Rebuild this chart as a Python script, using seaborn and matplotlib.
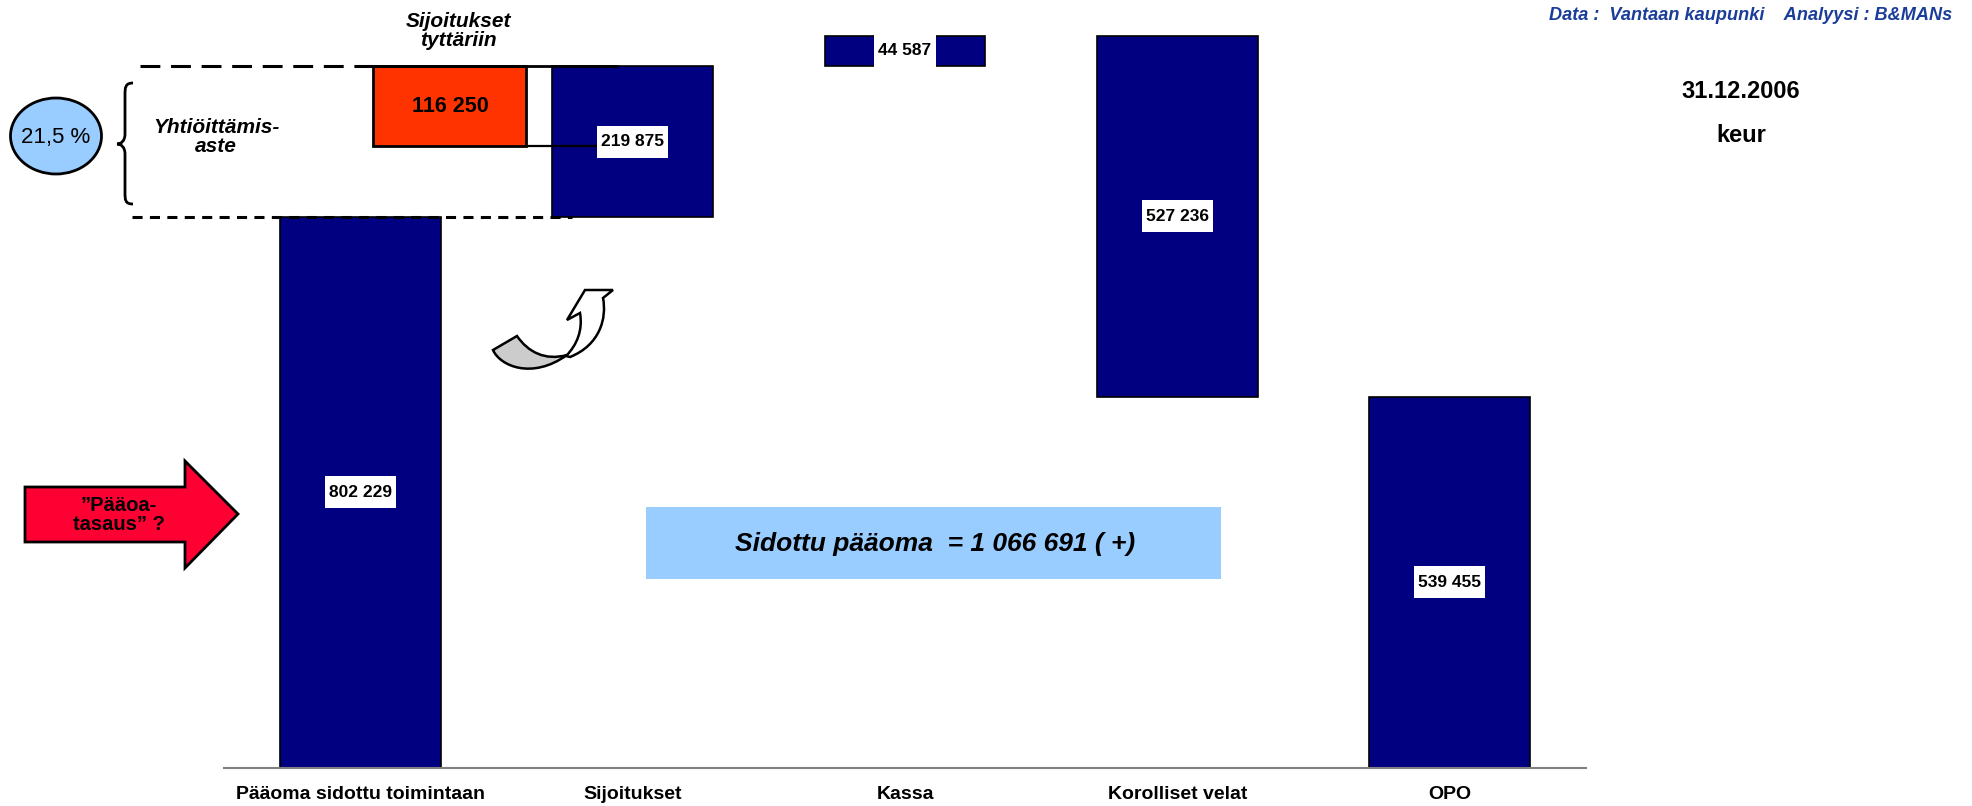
import matplotlib
matplotlib.use("Agg")
import matplotlib.pyplot as plt
import matplotlib.patches as mpatches
import matplotlib.transforms as mtransforms
from matplotlib.path import Path
import pandas as pd
import seaborn as sns

# ---------------- data ----------------
categories = ["Pääoma sidottu toimintaan", "Sijoitukset", "Kassa", "Korolliset velat", "OPO"]
changes = [802229, 219875, 44587, -527236, 539455]
is_total = [True, False, False, False, True]
subsidiary_investment = 116250
capitalization_rate = "21,5 %"
bound_capital_text = "Sidottu pääoma  = 1 066 691 ( +)"
source_text = "Data :  Vantaan kaupunki    Analyysi : B&MANs"
date_text = "31.12.2006"
unit_text = "keur"

# waterfall geometry from the values
bottoms, heights = [], []
running = 0
for v, tot in zip(changes, is_total):
    if tot:
        bottoms.append(0)
        heights.append(abs(v))
        running = v
    else:
        new = running + v
        bottoms.append(min(running, new))
        heights.append(abs(v))
        running = new
labels = [f"{abs(v):,}".replace(",", " ") for v in changes]

NAVY = "#000080"
ORANGE = "#ff3300"
LIGHTBLUE = "#99ccff"
RED = "#ff0033"
HEADER_BLUE = "#1b3d9a"

sns.set_style("white")
plt.rcParams["font.family"] = ["Liberation Sans", "DejaVu Sans"]
plt.rcParams["text.color"] = "black"
plt.rcParams["xtick.color"] = "black"
plt.rcParams["xtick.labelcolor"] = "black"

W, H = 1972, 806
fig = plt.figure(figsize=(W / 100, H / 100), dpi=100)
axis_px = 767.5
ax = fig.add_axes([224 / W, (H - axis_px) / H, 1362 / W, axis_px / H])

df = pd.DataFrame({"category": categories, "height": heights})
sns.barplot(data=df, x="category", y="height", order=categories, color=NAVY,
            saturation=1, width=0.59, bottom=bottoms, errorbar=None,
            edgecolor="black", linewidth=1.2, ax=ax)

ax.set_xlim(-0.5, 4.5)
ax.set_ylim(0, axis_px / 6.862e-4)
ax.set_xlabel("")
ax.set_ylabel("")
ax.set_yticks([])
ax.set_xticks(range(len(categories)))
ax.set_xticklabels(categories, fontsize=14, fontweight="bold", color="black")
ax.tick_params(axis="x", length=0, pad=13)
for s in ["top", "right", "left"]:
    ax.spines[s].set_visible(False)
ax.spines["bottom"].set_color("#808080")
ax.spines["bottom"].set_linewidth(1.5)
ax.set_facecolor("none")

# transforms: pixel coordinates (y down) and pixel-x / data-y
pxT = mtransforms.Affine2D().scale(1 / W, -1 / H).translate(0, 1) + fig.transFigure
bt = mtransforms.blended_transform_factory(pxT, ax.transData)
renderer = fig.canvas.get_renderer()

# value labels in white boxes (box: text width + small margin, fixed height)
for i, (b, h, lab) in enumerate(zip(bottoms, heights, labels)):
    t = ax.text(i, b + h / 2, lab, ha="center", va="center", fontsize=12.5,
                fontweight="bold", color="black", zorder=8)
    tw = t.get_window_extent(renderer=renderer).width
    cx, cy = pxT.inverted().transform(ax.transData.transform((i, b + h / 2)))
    bw, bh = tw + 8, 32
    ax.add_patch(mpatches.Rectangle((cx - bw / 2, cy - bh / 2), bw, bh, transform=pxT,
                                    facecolor="white", edgecolor="none", zorder=7,
                                    clip_on=False))

sij_top = bottoms[1] + heights[1]
sij_bottom = bottoms[1]
orange_bottom = sij_top - subsidiary_investment

# dashed guide lines
ax.plot([140, 373], [sij_top, sij_top], transform=bt, color="black", lw=2.2,
        ls=(0, (6.5, 3.5)), clip_on=False, zorder=5)
ax.plot([132, 572], [sij_bottom, sij_bottom], transform=bt, color="black", lw=2.2,
        ls=(0, (3.3, 2.4)), clip_on=False, zorder=5)
# orange box and connectors
ax.add_patch(mpatches.Rectangle((373, orange_bottom), 153, subsidiary_investment,
                                transform=bt, facecolor=ORANGE, edgecolor="black",
                                lw=2, clip_on=False, zorder=5))
ax.plot([373, 617], [sij_top, sij_top], transform=bt, color="black", lw=2,
        clip_on=False, zorder=5)
ax.plot([526, 600], [orange_bottom, orange_bottom], transform=bt, color="black", lw=1.6,
        clip_on=False, zorder=5)
ax.text(450, sij_top - subsidiary_investment / 2, f"{subsidiary_investment:,}".replace(",", " "),
        transform=bt, ha="center", va="center", fontsize=15.5, fontweight="bold", zorder=6)
ax.text(458, 31, "Sijoitukset\ntyttäriin", transform=pxT, ha="center", va="center",
        fontsize=15, fontweight="bold", fontstyle="italic", linespacing=1.0, zorder=6)

# ellipse with rate
ax.add_patch(mpatches.Ellipse((56, 136), 91, 76, transform=pxT, facecolor=LIGHTBLUE,
                              edgecolor="black", lw=2, clip_on=False, zorder=5))
ax.text(56, 137, capitalization_rate, transform=pxT, ha="center", va="center",
        fontsize=16, zorder=6)

# curly brace
brace = Path([(133, 83), (125, 83), (125, 88), (125, 95), (125, 134),
              (125, 141), (121, 144), (117, 144),
              (121, 144), (125, 147), (125, 154), (125, 192),
              (125, 200), (125, 204), (133, 204)],
             [Path.MOVETO, Path.CURVE4, Path.CURVE4, Path.CURVE4, Path.LINETO,
              Path.CURVE4, Path.CURVE4, Path.CURVE4,
              Path.CURVE4, Path.CURVE4, Path.CURVE4, Path.LINETO,
              Path.CURVE4, Path.CURVE4, Path.CURVE4])
ax.add_patch(mpatches.PathPatch(brace, transform=pxT, facecolor="none", edgecolor="black",
                                lw=2, clip_on=False, zorder=5))
ax.text(216, 137, "Yhtiöittämis-\naste", transform=pxT, ha="center", va="center",
        fontsize=15, fontweight="bold", fontstyle="italic", linespacing=1.05, zorder=6)

# curved arrow (white head + grey ribbon)
white_arrow = Path([(566, 356), (577, 345), (583, 330), (580, 313),
                    (567, 320), (585, 290), (613, 290), (603, 298),
                    (607, 318), (600, 345), (570, 357), (566, 356)],
                   [Path.MOVETO, Path.CURVE4, Path.CURVE4, Path.CURVE4,
                    Path.LINETO, Path.LINETO, Path.LINETO, Path.LINETO,
                    Path.CURVE4, Path.CURVE4, Path.CURVE4, Path.CLOSEPOLY])
ax.add_patch(mpatches.PathPatch(white_arrow, transform=pxT, facecolor="white",
                                edgecolor="black", lw=1.8, clip_on=False, zorder=5))
grey_ribbon = Path([(493, 350), (500, 366), (532, 380), (567, 355),
                    (545, 361), (528, 352), (517, 336), (493, 350)],
                   [Path.MOVETO, Path.CURVE4, Path.CURVE4, Path.CURVE4,
                    Path.CURVE4, Path.CURVE4, Path.CURVE4, Path.CLOSEPOLY])
ax.add_patch(mpatches.PathPatch(grey_ribbon, transform=pxT, facecolor="#cccccc",
                                edgecolor="black", lw=1.8, clip_on=False, zorder=5))

# red block arrow
red_arrow = [(25, 487), (185, 487), (185, 461), (238, 514), (185, 568), (185, 542), (25, 542)]
ax.add_patch(mpatches.Polygon(red_arrow, closed=True, transform=pxT, facecolor=RED,
                              edgecolor="black", lw=2, clip_on=False, zorder=5))
ax.text(119, 515, "\u201dPääoa-\ntasaus\u201d ?", transform=pxT, ha="center", va="center",
        fontsize=14.5, fontweight="bold", linespacing=1.05, zorder=6)

# bound capital box
ax.add_patch(mpatches.Rectangle((646, 507), 575, 72, transform=pxT, facecolor=LIGHTBLUE,
                                edgecolor="none", clip_on=False, zorder=5))
ax.text(935, 544, bound_capital_text, transform=pxT, ha="center", va="center",
        fontsize=19, fontweight="bold", fontstyle="italic", zorder=6)

# header texts
ax.text(1952, 16, source_text, transform=pxT, ha="right", va="center", fontsize=13.1,
        fontweight="bold", fontstyle="italic", color=HEADER_BLUE, zorder=6)
ax.text(1741, 91, date_text, transform=pxT, ha="center", va="center", fontsize=17,
        fontweight="bold", zorder=6)
ax.text(1741, 136, unit_text, transform=pxT, ha="center", va="center", fontsize=17,
        fontweight="bold", zorder=6)

fig.savefig("out.png", dpi=100, facecolor="white")
